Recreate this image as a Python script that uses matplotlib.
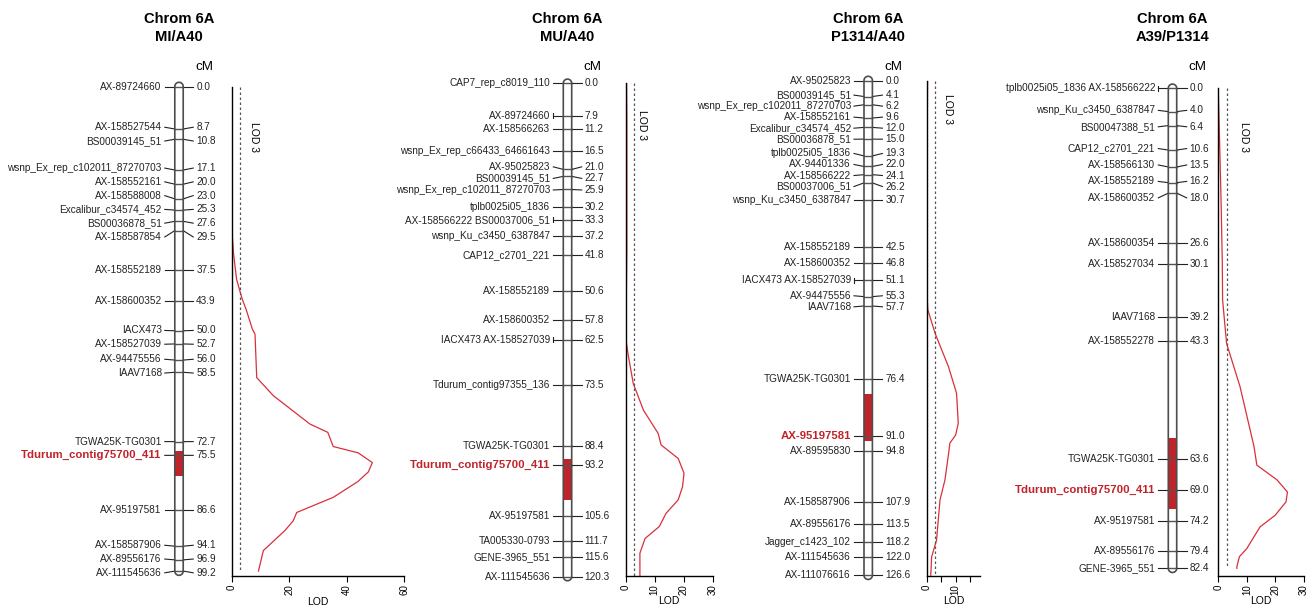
import numpy as np
import matplotlib.pyplot as plt
from matplotlib.patches import Polygon, Rectangle

plt.rcParams['font.family'] = ['Liberation Sans', 'DejaVu Sans']

W, H = 1314, 613

# ---- panel titles
titles = ["Chrom 6A\nMI/A40", "Chrom 6A\nMU/A40", "Chrom 6A\nP1314/A40", "Chrom 6A\nA39/P1314"]

# ---- marker names and positions (cM)
markers1 = ["AX-89724660", "AX-158527544", "BS00039145_51", "wsnp_Ex_rep_c102011_87270703",
            "AX-158552161", "AX-158588008", "Excalibur_c34574_452", "BS00036878_51",
            "AX-158587854", "AX-158552189", "AX-158600352", "IACX473", "AX-158527039",
            "AX-94475556", "IAAV7168", "TGWA25K-TG0301", "Tdurum_contig75700_411",
            "AX-95197581", "AX-158587906", "AX-89556176", "AX-111545636"]
pos1 = [0.0, 8.7, 10.8, 17.1, 20.0, 23.0, 25.3, 27.6, 29.5, 37.5, 43.9, 50.0, 52.7,
        56.0, 58.5, 72.7, 75.5, 86.6, 94.1, 96.9, 99.2]

markers2 = ["CAP7_rep_c8019_110", "AX-89724660", "AX-158566263", "wsnp_Ex_rep_c66433_64661643",
            "AX-95025823", "BS00039145_51", "wsnp_Ex_rep_c102011_87270703", "tplb0025i05_1836",
            "AX-158566222 BS00037006_51", "wsnp_Ku_c3450_6387847", "CAP12_c2701_221",
            "AX-158552189", "AX-158600352", "IACX473 AX-158527039", "Tdurum_contig97355_136",
            "TGWA25K-TG0301", "Tdurum_contig75700_411", "AX-95197581", "TA005330-0793",
            "GENE-3965_551", "AX-111545636"]
pos2 = [0.0, 7.9, 11.2, 16.5, 21.0, 22.7, 25.9, 30.2, 33.3, 37.2, 41.8, 50.6, 57.8, 62.5,
        73.5, 88.4, 93.2, 105.6, 111.7, 115.6, 120.3]

markers3 = ["AX-95025823", "BS00039145_51", "wsnp_Ex_rep_c102011_87270703", "AX-158552161",
            "Excalibur_c34574_452", "BS00036878_51", "tplb0025i05_1836", "AX-94401336",
            "AX-158566222", "BS00037006_51", "wsnp_Ku_c3450_6387847", "AX-158552189",
            "AX-158600352", "IACX473 AX-158527039", "AX-94475556", "IAAV7168",
            "TGWA25K-TG0301", "AX-95197581", "AX-89595830", "AX-158587906", "AX-89556176",
            "Jagger_c1423_102", "AX-111545636", "AX-111076616"]
pos3 = [0.0, 4.1, 6.2, 9.6, 12.0, 15.0, 19.3, 22.0, 24.1, 26.2, 30.7, 42.5, 46.8, 51.1,
        55.3, 57.7, 76.4, 91.0, 94.8, 107.9, 113.5, 118.2, 122.0, 126.6]

markers4 = ["tplb0025i05_1836 AX-158566222", "wsnp_Ku_c3450_6387847", "BS00047388_51",
            "CAP12_c2701_221", "AX-158566130", "AX-158552189", "AX-158600352",
            "AX-158600354", "AX-158527034", "IAAV7168", "AX-158552278", "TGWA25K-TG0301",
            "Tdurum_contig75700_411", "AX-95197581", "AX-89556176", "GENE-3965_551"]
pos4 = [0.0, 4.0, 6.4, 10.6, 13.5, 16.2, 18.0, 26.6, 30.1, 39.2, 43.3, 63.6, 69.0, 74.2,
        79.4, 82.4]

# markers drawn with a group bar at the end of their label
grouped1 = []
grouped2 = ["AX-89724660", "AX-158566222 BS00037006_51", "IACX473 AX-158527039"]
grouped3 = ["IACX473 AX-158527039"]
grouped4 = ["tplb0025i05_1836 AX-158566222"]

# peak marker (red, bold) and QTL interval (cM)
peak = ["Tdurum_contig75700_411", "Tdurum_contig75700_411", "AX-95197581", "Tdurum_contig75700_411"]
qtl1 = [74.6, 79.8]
qtl2 = [91.7, 101.6]
qtl3 = [80.3, 92.2]
qtl4 = [60.1, 72.3]

# ---- LOD profiles (cM, LOD)
scan_cm1 = [0, 10, 20, 28.6, 34, 39.5, 43.6, 45.6, 49.7, 50.7, 59.6, 63.3, 69.1, 70.8, 73.7,
            75.0, 77.0, 78.9, 80.9, 84.1, 87.2, 88.9, 90.9, 95.0, 99.2]
scan_lod1 = [0, 0, 0, 0, 0.6, 1.7, 3.7, 5.0, 7.2, 8.1, 8.7, 14.5, 27.2, 33.4, 35.3, 44.0, 48.9,
             47.5, 43.8, 35.3, 22.6, 21.4, 18.5, 11.0, 9.3]
scan_cm2 = [0, 10, 20, 30, 40, 52.9, 62.6, 66, 73.2, 79.7, 85.4, 88.2, 91.5, 95.1, 98.4, 101.6,
            104.9, 108.1, 111.0, 114.6, 120.3]
scan_lod2 = [0.3, 0.4, 0.4, 0.4, 0.4, 0.2, 0.1, 0.8, 2.6, 6.1, 11.2, 12.2, 18.1, 20.1, 19.6,
             18.1, 13.9, 11.6, 6.7, 4.9, 4.9]
scan_cm3 = [0, 10, 20, 30, 40, 50, 56.2, 58.7, 64.7, 73.2, 80.0, 87.7, 90.7, 92.8, 95.8, 102.2,
            107.3, 117.6, 121.9, 126.6]
scan_lod3 = [0.3, 0.2, 0.2, 0.2, 0.2, 0.1, 0.2, 0.4, 2.9, 7.5, 10.3, 10.9, 10.0, 8.0, 7.5, 6.3,
             4.6, 3.4, 1.7, 1.4]
scan_cm4 = [0.6, 10, 20, 30, 36.3, 43.8, 51.2, 61.5, 64.7, 67.2, 69.3, 71.0, 73.3, 75.3, 79.0,
            80.4, 82.1, 82.4]
scan_lod4 = [0.0, 0.5, 1.0, 1.4, 1.5, 2.9, 7.6, 12.5, 13.5, 20.5, 24.2, 23.7, 19.9, 14.6, 10.0,
             7.4, 6.5, 6.5]

lod_threshold = 3

# ---- layout (pixels): chrom centre, y of 0 cM, px per cM, LOD axis x-range, LOD 3 label
layout = [
    dict(cx=179.0, top0=86.5, s=4.885, lx0=231.7, lx1=404.3, xmax=60, ticks=[0, 20, 40, 60],
         tlabels=["0", "20", "40", "60"], lod3=(254, 137)),
    dict(cx=567.5, top0=83.3, s=4.10, lx0=625.7, lx1=712.7, xmax=30, ticks=[0, 10, 20, 30],
         tlabels=["0", "10", "20", "30"], lod3=(642, 125)),
    dict(cx=868.2, top0=80.5, s=3.908, lx0=926.7, lx1=980.0, xmax=18.4, ticks=[0, 5, 10, 15],
         tlabels=["0", "", "10", ""], lod3=(948, 109)),
    dict(cx=1172.5, top0=88.3, s=5.825, lx0=1218.3, lx1=1304.0, xmax=30, ticks=[0, 10, 20, 30],
         tlabels=["0", "10", "20", "30"], lod3=(1244, 137)),
]

RED = "#c1232b"
CURVE = "#d8303a"
LBL_GAP_CM = 2.82
R = 4.2  # half width of the chromosome bar (px)


def spread_labels(pos, gap):
    # merge overlapping labels into groups centred on their mean position
    groups = [[i] for i in range(len(pos))]
    while True:
        placed = []
        for g in groups:
            c = np.mean([pos[i] for i in g])
            n = len(g)
            placed.append([c + (k - (n - 1) / 2) * gap for k in range(n)])
        merged = False
        for j in range(len(groups) - 1):
            if placed[j + 1][0] - placed[j][-1] < gap - 1e-9:
                groups[j] = groups[j] + groups[j + 1]
                del groups[j + 1]
                merged = True
                break
        if not merged:
            return [y for p in placed for y in p]


def fig_rect(x0, x1, yt, yb):
    return [x0 / W, 1 - yb / H, (x1 - x0) / W, (yb - yt) / H]


fig = plt.figure(figsize=(W / 100, H / 100), dpi=100)

all_markers = [markers1, markers2, markers3, markers4]
all_pos = [pos1, pos2, pos3, pos4]
all_grouped = [grouped1, grouped2, grouped3, grouped4]
all_qtl = [qtl1, qtl2, qtl3, qtl4]
all_scan = [(scan_cm1, scan_lod1), (scan_cm2, scan_lod2), (scan_cm3, scan_lod3), (scan_cm4, scan_lod4)]

for p in range(4):
    L = layout[p]
    cx, top0, s = L["cx"], L["top0"], L["s"]
    names, pos = all_markers[p], all_pos[p]
    cm_end = pos[-1]

    def cm(y):
        return (y - top0) / s

    # map axes: x in pixels, y in cM
    xl, xr, yt, yb = cx - 200, cx + 45, 40, 600
    ax = fig.add_axes(fig_rect(xl, xr, yt, yb))
    ax.set_xlim(xl, xr)
    ax.set_ylim(cm(yb), cm(yt))
    ax.axis("off")

    # chromosome bar with round ends
    t = np.linspace(0, np.pi, 30)
    top_arc = np.column_stack([cx + R * np.cos(t), -R / s * np.sin(t)])
    bot_arc = np.column_stack([cx - R * np.cos(t), cm_end + R / s * np.sin(t)])
    outline = np.vstack([top_arc, bot_arc])
    ax.add_patch(Polygon(outline, closed=True, facecolor="white", edgecolor="none", zorder=1))
    q0, q1 = all_qtl[p]
    ax.add_patch(Rectangle((cx - R, q0), 2 * R, q1 - q0, facecolor=RED, edgecolor="none", zorder=2))

    bl, br = cx - R, cx + R
    ly = spread_labels(pos, LBL_GAP_CM)
    for name, y, yl in zip(names, pos, ly):
        ax.plot([bl - 10, bl], [yl, y], color="#222222", lw=0.8, zorder=3)
        ax.plot([bl, br], [y, y], color="#555555", lw=1.0, zorder=3)
        ax.plot([br, br + 10], [y, yl], color="#222222", lw=0.8, zorder=3)
        if name in all_grouped[p]:
            ax.plot([bl - 10, bl - 10], [yl - 2.5 / s, yl + 2.5 / s], color="#222222", lw=0.8)
        if name == peak[p]:
            ax.text(bl - 13, yl, name, ha="right", va="center", fontsize=8.2,
                    fontweight="bold", color=RED)
        else:
            ax.text(bl - 13, yl, name, ha="right", va="center", fontsize=7.2, color="#222222")
        ax.text(br + 13, yl, f"{y:.1f}", ha="left", va="center", fontsize=7.2, color="#222222")

    ax.add_patch(Polygon(outline, closed=True, facecolor="none", edgecolor="#4d4d4d",
                         lw=1.2, zorder=4))

    # titles and cM header
    fig.text(cx / W, 1 - 28 / H, titles[p], ha="center", va="center", fontsize=10.6,
             fontweight="bold", linespacing=1.4)
    fig.text((cx + 25) / W, 1 - 67 / H, "cM", ha="center", va="center", fontsize=9.6)

    # LOD profile axes
    ly_bot = 576
    lax = fig.add_axes(fig_rect(L["lx0"], L["lx1"], top0, ly_bot))
    lax.set_xlim(0, L["xmax"])
    lax.set_ylim(cm(ly_bot), 0)
    scm, slod = all_scan[p]
    lax.plot(slod, scm, color=CURVE, lw=0.9, zorder=2)
    lax.plot([lod_threshold, lod_threshold], [0, cm_end], color="#555555", lw=0.9,
             ls=(0, (2, 2)), zorder=2)
    for side in ["top", "right"]:
        lax.spines[side].set_visible(False)
    lax.spines["left"].set_linewidth(1.0)
    lax.spines["bottom"].set_linewidth(1.0)
    lax.set_yticks([])
    lax.set_xticks(L["ticks"])
    lax.set_xticklabels(L["tlabels"], rotation=90, fontsize=7)
    lax.tick_params(axis="x", length=4, width=0.8, pad=2)
    lax.set_xlabel("LOD", fontsize=7.5, labelpad=1)
    lax.patch.set_visible(False)

    fig.text(L["lod3"][0] / W, 1 - L["lod3"][1] / H, "LOD 3", rotation=-90,
             ha="center", va="center", fontsize=7.5)

fig.savefig("out.png", dpi=100)
